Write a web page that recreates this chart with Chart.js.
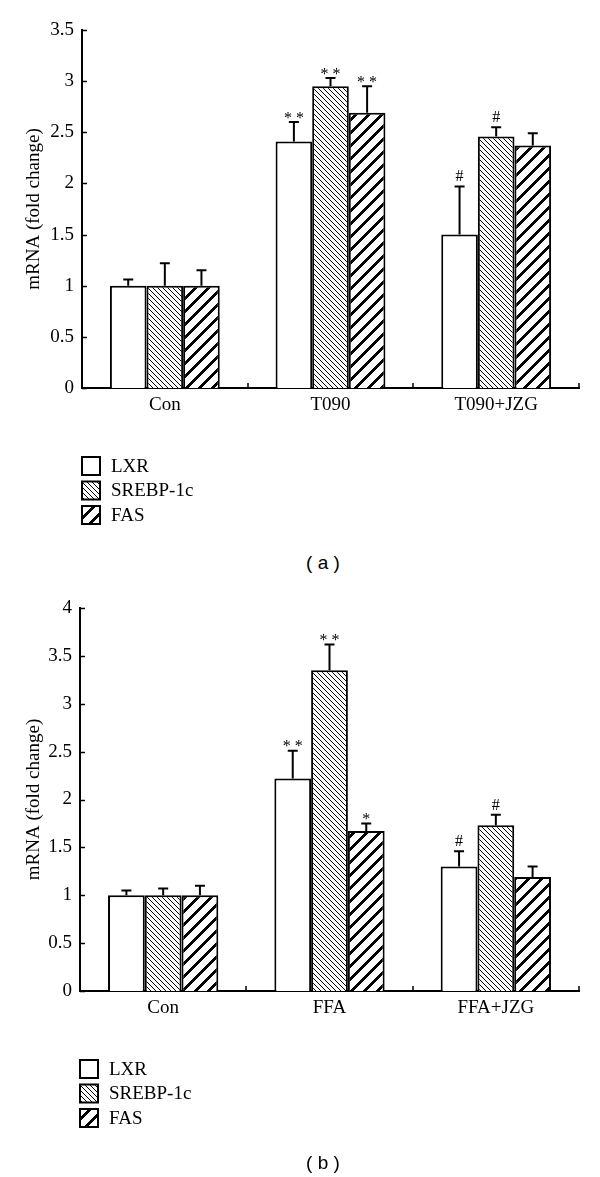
<!DOCTYPE html>
<html lang="en">
<head>
<meta charset="UTF-8">
<title>mRNA fold change</title>
<script src="https://cdn.jsdelivr.net/npm/chart.js"></script>
<style>
    body { margin: 0; background: #fff; }
    .page { position: relative; width: 600px; height: 1177px; }
    canvas { position: absolute; left: 0; }
    .cap { position: absolute; left: 273px; width: 100px; text-align: center;
           font: 19px "Liberation Sans", Arial, sans-serif; line-height: 20px; color: #000; }
</style>
</head>
<body>
<div class="page">
    <canvas id="chart-a" width="600" height="540" style="top:0"></canvas>
    <div class="cap" style="top:553px">( a )</div>
    <canvas id="chart-b" width="600" height="617" style="top:560px"></canvas>
    <div class="cap" style="top:1153px">( b )</div>
</div>
<script>
const seriesNames = ['LXR', 'SREBP-1c', 'FAS'];

// panel (a)
const categoriesA = ['Con', 'T090', 'T090+JZG'];
const lxrA = [1.0, 2.41, 1.50];
const srebpA = [1.0, 2.95, 2.46];
const fasA = [1.0, 2.69, 2.37];
const lxrErrA = [0.06, 0.19, 0.47];
const srebpErrA = [0.22, 0.08, 0.09];
const fasErrA = [0.15, 0.26, 0.12];
const lxrMarkA = ['', '**', '#'];
const srebpMarkA = ['', '**', '#'];
const fasMarkA = ['', '**', ''];
const yTicksA = [0, 0.5, 1, 1.5, 2, 2.5, 3, 3.5];

// panel (b)
const categoriesB = ['Con', 'FFA', 'FFA+JZG'];
const lxrB = [1.0, 2.22, 1.30];
const srebpB = [1.0, 3.35, 1.73];
const fasB = [1.0, 1.67, 1.19];
const lxrErrB = [0.05, 0.29, 0.16];
const srebpErrB = [0.07, 0.27, 0.11];
const fasErrB = [0.10, 0.08, 0.11];
const lxrMarkB = ['', '**', '#'];
const srebpMarkB = ['', '**', '#'];
const fasMarkB = ['', '*', ''];
const yTicksB = [0, 0.5, 1, 1.5, 2, 2.5, 3, 3.5, 4];

const SERIF = '"Liberation Serif", "Times New Roman", serif';

// crisp pixel hatch: slash '/' or backslash '\'
function hatch(size, width, slash) {
    const c = document.createElement('canvas');
    c.width = c.height = size;
    const g = c.getContext('2d');
    const img = g.createImageData(size, size);
    for (let py = 0; py < size; py++) {
        for (let px = 0; px < size; px++) {
            const k = slash ? (px + py) % size : ((px - py) % size + size) % size;
            const v = k < width ? 0 : 255;
            const o = (py * size + px) * 4;
            img.data[o] = img.data[o + 1] = img.data[o + 2] = v;
            img.data[o + 3] = 255;
        }
    }
    g.putImageData(img, 0, 0);
    return g.createPattern(c, 'repeat');
}

const fills = ['#ffffff', hatch(5, 1, false), hatch(13, 4, true)];

// error bars, marks, inner ticks and the legend
const extras = {
    id: 'extras',
    afterDatasetsDraw(chart) {
        const ctx = chart.ctx;
        const y = chart.scales.y, x = chart.scales.x;
        const area = chart.chartArea;
        ctx.save();
        ctx.strokeStyle = '#000';
        ctx.fillStyle = '#000';
        ctx.lineWidth = 2;
        chart.data.datasets.forEach((ds, i) => {
            const meta = chart.getDatasetMeta(i);
            meta.data.forEach((bar, j) => {
                const top = y.getPixelForValue(ds.data[j] + ds.err[j]);
                ctx.beginPath();
                ctx.moveTo(bar.x, bar.y);
                ctx.lineTo(bar.x, top);
                ctx.moveTo(bar.x - 5, top);
                ctx.lineTo(bar.x + 5, top);
                ctx.stroke();
                const m = ds.marks[j];
                if (m) {
                    ctx.font = '16px ' + SERIF;
                    ctx.textAlign = 'center';
                    ctx.textBaseline = 'alphabetic';
                    if (m[0] === '*') ctx.fillText(m.split('').join(' '), bar.x, top + 0.5);
                    else ctx.fillText(m, bar.x, top - 5);
                }
            });
        });
        // inner ticks
        ctx.lineWidth = 1.5;
        ctx.beginPath();
        y.ticks.forEach(t => {
            const py = Math.round(y.getPixelForValue(t.value)) + 0.5;
            ctx.moveTo(area.left, py);
            ctx.lineTo(area.left + 5, py);
        });
        for (let i = 0; i < chart.data.labels.length; i++) {
            const px = Math.round(x.getPixelForValue(i + 0.5));
            ctx.moveTo(px, area.bottom);
            ctx.lineTo(px, area.bottom - 5);
        }
        ctx.stroke();
        // legend
        const lx = area.left, ly = area.bottom + 69;
        chart.data.datasets.forEach((ds, i) => {
            const by = ly + i * 24.5;
            ctx.fillStyle = ds.backgroundColor;
            ctx.fillRect(lx, by, 18, 18);
            ctx.lineWidth = 2;
            ctx.strokeRect(lx, by, 18, 18);
            ctx.fillStyle = '#000';
            ctx.font = '19px ' + SERIF;
            ctx.textAlign = 'left';
            ctx.textBaseline = 'middle';
            ctx.fillText(ds.label, lx + 29, by + 10);
        });
        ctx.restore();
    }
};

function makeChart(id, labels, series, errs, marks, ticks, yMax, pad, yWidth) {
    return new Chart(document.getElementById(id), {
        type: 'bar',
        data: {
            labels: labels,
            datasets: series.map((d, i) => ({
                label: seriesNames[i],
                data: d,
                err: errs[i],
                marks: marks[i],
                backgroundColor: fills[i],
                borderColor: '#000',
                borderWidth: 2,
                categoryPercentage: 0.663,
                barPercentage: 1.0
            }))
        },
        options: {
            responsive: false,
            animation: false,
            devicePixelRatio: 1,
            layout: { padding: pad },
            plugins: { legend: { display: false }, tooltip: { enabled: false } },
            scales: {
                x: {
                    grid: { display: false, drawTicks: false, tickLength: 0 },
                    border: { color: '#000', width: 2 },
                    ticks: { color: '#000', padding: 6, font: { family: SERIF, size: 19 } },
                    afterFit(s) { s.height = 40; }
                },
                y: {
                    min: 0,
                    max: yMax,
                    grid: { display: false, drawTicks: false, tickLength: 0 },
                    border: { color: '#000', width: 2 },
                    ticks: {
                        color: '#000', padding: 8, font: { family: SERIF, size: 19 },
                        callback: v => String(v)
                    },
                    afterBuildTicks(s) { s.ticks = ticks.map(v => ({ value: v })); },
                    title: {
                        display: true,
                        text: 'mRNA (fold change)',
                        color: '#000',
                        font: { family: SERIF, size: 19 },
                        padding: { top: 3, bottom: 3 }
                    },
                    afterFit(s) { s.width = yWidth; }
                }
            }
        },
        plugins: [extras]
    });
}

makeChart('chart-a', categoriesA, [lxrA, srebpA, fasA], [lxrErrA, srebpErrA, fasErrA],
    [lxrMarkA, srebpMarkA, fasMarkA], yTicksA, 3.5,
    { left: 20, top: 30, right: 21, bottom: 112 }, 62);

makeChart('chart-b', categoriesB, [lxrB, srebpB, fasB], [lxrErrB, srebpErrB, fasErrB],
    [lxrMarkB, srebpMarkB, fasMarkB], yTicksB, 4,
    { left: 20, top: 48, right: 21, bottom: 146 }, 60);
</script>
</body>
</html>
